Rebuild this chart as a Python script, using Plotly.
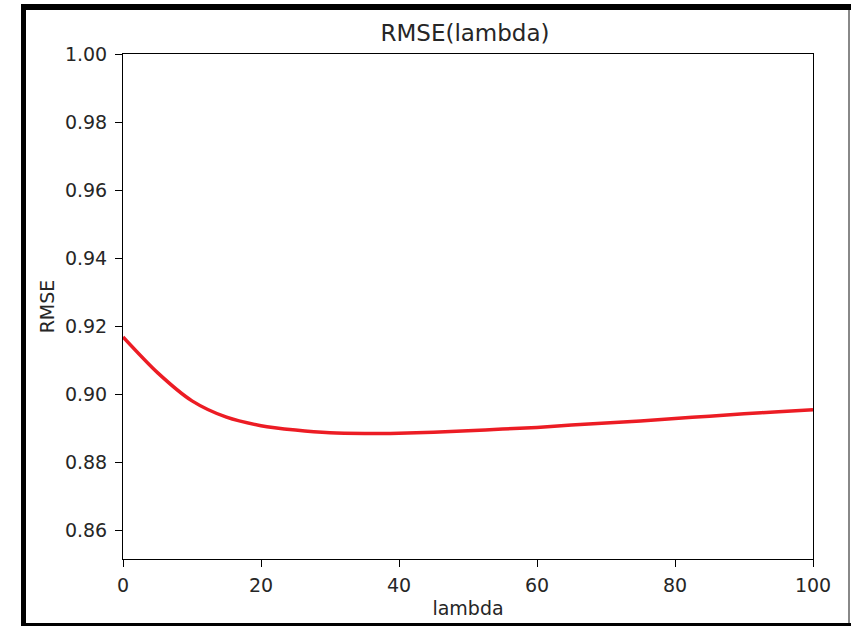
import plotly.graph_objects as go

lambdas = [0, 5, 10, 15, 20, 25, 30, 35, 40, 45, 50, 55, 60, 65, 70, 75, 80, 85, 90, 95, 100]
rmse = [0.9168, 0.9063, 0.8980, 0.8932, 0.8907, 0.8894, 0.8886, 0.8884, 0.8885, 0.8888,
        0.8892, 0.8897, 0.8902, 0.8909, 0.8915, 0.8921, 0.8928, 0.8935, 0.8942, 0.8948, 0.8954]
x_ticks = [0, 20, 40, 60, 80, 100]
y_ticks = [0.86, 0.88, 0.90, 0.92, 0.94, 0.96, 0.98, 1.00]

W, H = 851, 626
L, R, T, B = 123, 38, 54, 67
PW, PH = W - L - R, H - T - B


def px(x):
    return (x - L) / PW


def py(y):
    return (H - B - y) / PH


fig = go.Figure()
fig.add_trace(go.Scatter(x=lambdas, y=rmse, mode="lines",
                         line=dict(color="#ec1c24", width=3.5, shape="spline", smoothing=0.8),
                         showlegend=False, hoverinfo="skip"))

txt = "#262626"
axis_common = dict(showline=True, linecolor="black", linewidth=1, mirror=True,
                   ticks="outside", ticklen=7, tickcolor="black", tickwidth=1,
                   showgrid=False, zeroline=False,
                   tickfont=dict(family="DejaVu Sans", size=19, color=txt))

fig.update_xaxes(range=[0, 100], tickvals=x_ticks, ticktext=[str(v) for v in x_ticks],
                 ticklabelstandoff=2,
                 title=dict(text="lambda", font=dict(family="DejaVu Sans", size=19, color=txt), standoff=6),
                 **axis_common)
fig.update_yaxes(range=[0.8515, 1.0], tickvals=y_ticks, ticktext=["%.2f" % v for v in y_ticks],
                 ticklabelstandoff=4,
                 title=dict(text="RMSE", font=dict(family="DejaVu Sans", size=19, color=txt), standoff=5),
                 **axis_common)

shapes = [
    dict(type="rect", xref="paper", yref="paper", x0=px(21), x1=px(26), y0=py(626), y1=py(4),
         fillcolor="black", line=dict(width=0), layer="below"),
    dict(type="rect", xref="paper", yref="paper", x0=px(21), x1=px(851), y0=py(10), y1=py(4),
         fillcolor="black", line=dict(width=0), layer="below"),
    dict(type="rect", xref="paper", yref="paper", x0=px(21), x1=px(851), y0=py(626), y1=py(623),
         fillcolor="black", line=dict(width=0), layer="below"),
    dict(type="rect", xref="paper", yref="paper", x0=px(848), x1=px(850), y0=py(623), y1=py(10),
         fillcolor="#888888", line=dict(width=0), layer="below"),
]

fig.update_layout(
    width=W, height=H,
    margin=dict(l=L, r=R, t=T, b=B),
    paper_bgcolor="white", plot_bgcolor="white",
    title=dict(text="RMSE(lambda)", xref="container", x=465 / W, xanchor="center",
               y=1 - 33 / H, yanchor="middle",
               font=dict(family="DejaVu Sans", size=23, color=txt)),
    shapes=shapes,
    font=dict(family="DejaVu Sans"),
)

fig.write_html("out.html", config={"displayModeBar": False},
               post_script="document.body.style.margin='0';")
